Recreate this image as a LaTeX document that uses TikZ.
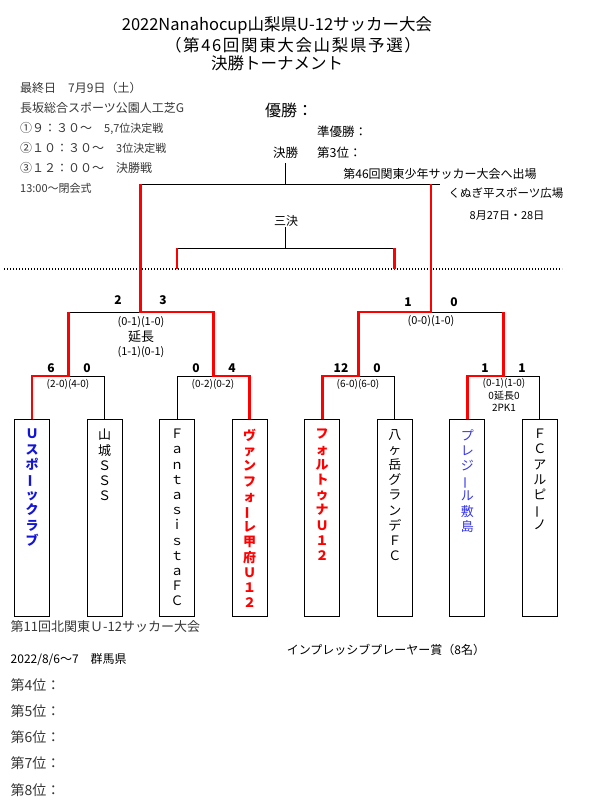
\documentclass[tikz,border=0pt]{standalone}
\usepackage{fontspec}
\usepackage{graphicx}
\setmainfont{Noto Sans CJK JP}
\newcommand\vbr{\smash{\rotatebox[origin=c]{90}{ー}}}
\definecolor{ublue}{RGB}{20,20,215}
\definecolor{pblue}{RGB}{55,55,235}
\definecolor{infogray}{RGB}{55,55,55}
\tikzset{
  bk/.style={line width=0.9pt, black},
  rd/.style={line width=2.7pt, red, line join=miter},
  dotline/.style={line width=1.2pt, dash pattern=on 1.2pt off 1.8pt},
  teambox/.style={draw, line width=1pt, minimum width=35pt, minimum height=197pt, anchor=north, inner sep=0pt},
  tname/.style={anchor=north, align=center, inner sep=0pt, font=\fontsize{13}{15.2}\selectfont},
  tnameb/.style={anchor=north, align=center, inner sep=0pt, font=\fontsize{13}{15.2}\selectfont\bfseries},
  sc/.style={inner sep=0pt, font=\fontsize{12}{12}\selectfont\bfseries},
  res/.style={inner sep=0pt, font=\fontsize{10}{10}\selectfont},
  resbig/.style={inner sep=0pt, font=\fontsize{11}{11}\selectfont},
  info/.style={anchor=west, inner sep=0pt, text=infogray, font=\fontsize{12}{12}\selectfont},
  lbl/.style={inner sep=0pt, font=\fontsize{12.5}{12.5}\selectfont},
  ttl/.style={inner sep=0pt, font=\fontsize{16.5}{16.5}\selectfont},
}
\begin{document}
\begin{tikzpicture}[x=1pt,y=-1pt]
\useasboundingbox (0,0) rectangle (589,809);
\fill[white] (0,0) rectangle (589,809);

% titles
\node[ttl] (t1) at (277,25) {2022Nanahocup山梨県U-12サッカー大会};
\node[ttl, font=\fontsize{16.5}{16.5}\selectfont\addfontfeature{LetterSpace=10}] (t2) at (293,45) {（第46回関東大会山梨県予選）};
\node[ttl] (t3) at (277,63) {決勝トーナメント};

% info
\node[info] (i1) at (20,88) {最終日　7月9日（土）};
\node[info] (i2) at (20,108) {長坂総合スポーツ公園人工芝G};
\node[info] (i3) at (20,128) {①９：３０～　{\fontsize{11}{11}\selectfont 5,7位決定戦}};
\node[info] (i4) at (20,148) {②１０：３０～　{\fontsize{11}{11}\selectfont 3位決定戦}};
\node[info] (i5) at (20,168) {③１２：００～　決勝戦};
\node[info, font=\fontsize{11}{11}\selectfont] (i6) at (20,188) {13:00～閉会式};

% winners
\node[anchor=west, inner sep=0pt, font=\fontsize{16}{16}\selectfont] (win) at (265,110) {優勝：};
\node[anchor=west, lbl] (second) at (317,132) {準優勝：};
\node[anchor=west, lbl] (finlbl) at (273,153) {決勝};
\node[anchor=west, lbl] (third) at (317,153) {第3位：};
\node[lbl, font=\fontsize{12}{12}\selectfont] (kanto) at (440,174) {第46回関東少年サッカー大会へ出場};
\node[lbl, font=\fontsize{11.5}{11.5}\selectfont] (venue) at (506,193) {くぬぎ平スポーツ広場};
\node[lbl, font=\fontsize{11}{11}\selectfont] (dates) at (507,216) {8月27日・28日};
\node[lbl, font=\fontsize{12}{12}\selectfont] (sanketsu) at (286,221) {三決};

% team boxes
\foreach \i/\x in {1/32,2/104.55,3/177.1,4/249.65,5/322.2,6/394.75,7/467.3,8/539.85}
  \node[teambox] (b\i) at (\x,419) {};

\node[tnameb, text=ublue] (n1) at ([yshift=-10pt]b1.north) {Ｕ\\ス\\ポ\\\vbr\\ッ\\ク\\ラ\\ブ};
\node[tname] (n2) at ([yshift=-10pt]b2.north) {山\\城\\Ｓ\\Ｓ\\Ｓ};
\node[tname] (n3) at ([yshift=-10pt]b3.north) {Ｆ\\ａ\\ｎ\\ｔ\\ａ\\ｓ\\ｉ\\ｓ\\ｔ\\ａ\\Ｆ\\Ｃ};
\node[tnameb, text=red] (n4) at ([yshift=-10pt]b4.north) {ヴ\\ァ\\ン\\フ\\ォ\\\vbr\\レ\\甲\\府\\Ｕ\\１\\２};
\node[tnameb, text=red] (n5) at ([yshift=-10pt]b5.north) {フ\\ォ\\ル\\ト\\ゥ\\ナ\\Ｕ\\１\\２};
\node[tname] (n6) at ([yshift=-10pt]b6.north) {八\\ヶ\\岳\\グ\\ラ\\ン\\デ\\Ｆ\\Ｃ};
\node[tname, text=pblue] (n7) at ([yshift=-10pt]b7.north) {プ\\レ\\ジ\\\vbr\\ル\\敷\\島};
\node[tname] (n8) at ([yshift=-10pt]b8.north) {Ｆ\\Ｃ\\ア\\ル\\ピ\\\vbr\\ノ};

% bracket coordinates
\coordinate (q1) at (68.3,376);
\coordinate (q2) at (213.4,376);
\coordinate (q3) at (358.5,376);
\coordinate (q4) at (503.6,376);
\coordinate (s1) at (140.8,312);
\coordinate (s2) at (431,312);
\coordinate (fn) at (285.9,184);
\coordinate (fnend) at (440,184);
\coordinate (fntop) at (285.9,163);
\coordinate (tp) at (285.9,248);
\coordinate (tptop) at (285.9,227);
\coordinate (dl0) at (4,269);
\coordinate (dl1) at (562,269);

% black lines
\draw[bk] (b2.north) |- (q1);
\draw[bk] (b3.north) |- (q2);
\draw[bk] (b6.north) |- (q3);
\draw[bk] (b8.north) |- (q4);
\draw[bk] (q1 |- s1) -- (s1);
\draw[bk] (s2) -- (q4 |- s2);
\draw[bk] (s1 |- fn) -- (fnend);
\draw[bk] (fn) -- (fntop);
\draw[bk] (b3.north |- tp) -- (b6.north |- tp);
\draw[bk] (tp) -- (tptop);
\draw[dotline] (dl0) -- (dl1);

% red lines
\draw[rd] (b1.north) |- (q1) -- (q1 |- s1);
\draw[rd] (b4.north) |- (q2) -- (q2 |- s1) -- (s1) -- (s1 |- fn);
\draw[rd] (b5.north) |- (q3) -- (q3 |- s2) -- (s2) -- (s2 |- fn);
\draw[rd] (b7.north) |- (q4) -- (q4 |- s2);
\draw[rd] (b3.north |- tp) -- (b3.north |- dl0);
\draw[rd] (b6.north |- tp) -- (b6.north |- dl0);

% scores
\node[sc] (sA) at (118,300) {2};
\node[sc] (sB) at (163,300) {3};
\node[sc] (sC) at (408,302) {1};
\node[sc] (sD) at (454,302) {0};
\node[sc] (s1a) at (51,368) {6};
\node[sc] (s1b) at (87,368) {0};
\node[sc] (s2a) at (196,368) {0};
\node[sc] (s2b) at (232,368) {4};
\node[sc] (s3a) at (341,368) {12};
\node[sc] (s3b) at (377,368) {0};
\node[sc] (s4a) at (485,368) {1};
\node[sc] (s4b) at (522,368) {1};

% results
\node[resbig] (r1) at (141,322) {(0-1)(1-0)};
\node[lbl, font=\fontsize{13}{13}\selectfont] (r1b) at (141,337) {延長};
\node[resbig] (r1c) at (141,352) {(1-1)(0-1)};
\node[resbig] (r2) at (431,321) {(0-0)(1-0)};
\node[res] (rq1) at (68,384) {(2-0)(4-0)};
\node[res] (rq2) at (213,384) {(0-2)(0-2)};
\node[res] (rq3) at (358,384) {(6-0)(6-0)};
\node[res] (rq4) at (504,383) {(0-1)(1-0)};
\node[res] (rq4b) at (504,396) {0延長0};
\node[res] (rq4c) at (504,408) {2PK1};

% bottom texts
\node[info, font=\fontsize{13}{13}\selectfont] (kita) at (10.5,627) {第11回北関東Ｕ-12サッカー大会};
\node[info, text=black] (kitad) at (10.5,660) {2022/8/6～7　群馬県};
\node[lbl, font=\fontsize{12}{12}\selectfont] (mvp) at (386,650) {インプレッシブプレーヤー賞（8名）};
\node[info, font=\fontsize{14}{14}\selectfont] (p4) at (10.5,685) {第4位：};
\node[info, font=\fontsize{14}{14}\selectfont] (p5) at (10.5,711) {第5位：};
\node[info, font=\fontsize{14}{14}\selectfont] (p6) at (10.5,737) {第6位：};
\node[info, font=\fontsize{14}{14}\selectfont] (p7) at (10.5,763) {第7位：};
\node[info, font=\fontsize{14}{14}\selectfont] (p8) at (10.5,790) {第8位：};
\end{tikzpicture}
\end{document}
